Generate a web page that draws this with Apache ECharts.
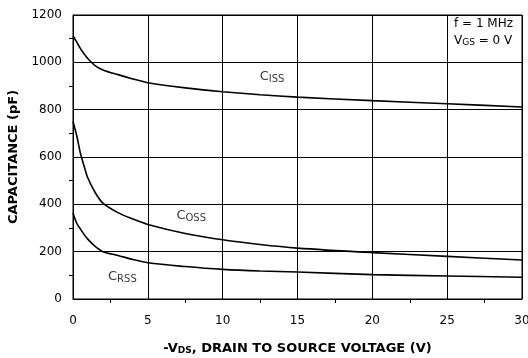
<!DOCTYPE html>
<html><head><meta charset="utf-8">
<script src="https://cdn.jsdelivr.net/npm/echarts@6/dist/echarts.min.js"></script>
<style>html,body{margin:0;padding:0;background:#fff}#c{width:528px;height:358px}</style>
</head><body><div id="c"></div>
<script>
var voltage = [0, 0.25, 0.5, 0.75, 1, 1.5, 2, 3, 4, 5, 7.5, 10, 12.5, 15, 20, 25, 30];
var ciss = [1112, 1085, 1058, 1035, 1015, 985, 968, 948, 930, 914, 892, 876, 863, 853, 838, 825, 811];
var coss = [750, 690, 615, 560, 510, 448, 405, 365, 338, 315, 277, 250, 230, 215, 196, 180, 165];
var crss = [362, 320, 295, 272, 252, 221, 200, 184, 167, 153, 137, 125, 118, 114, 103, 97, 92];
var xTicks = [0, 5, 10, 15, 20, 25, 30];
var yTicks = [0, 200, 400, 600, 800, 1000, 1200];
var curveLabels = ['ISS', 'OSS', 'RSS'];
var curveLabelAt = [[13.3, 938], [7.9, 351], [3.3, 93]];

function pairs(ys) { return voltage.map(function (v, i) { return [v, ys[i]]; }); }
var FONT = 'DejaVu Sans, sans-serif';
var rich = { m: { fontSize: 13, fontFamily: FONT, color: '#000' }, s: { fontSize: 10, fontFamily: FONT, color: '#000', verticalAlign: 'bottom', padding: [4, 0, 0, 0] } };
var richLeg = { m: { fontSize: 12, fontFamily: FONT, color: '#000' }, s: { fontSize: 9, fontFamily: FONT, color: '#000', verticalAlign: 'bottom', padding: [4, 0, 0, 0] } };
function series(ys) {
  return { type: 'line', data: pairs(ys), showSymbol: false, smooth: 0.3,
    lineStyle: { color: '#000', width: 1.6 }, itemStyle: { color: '#000' }, silent: true };
}
var labelSeries = {
  type: 'scatter', symbolSize: 1, itemStyle: { color: 'rgba(0,0,0,0)' }, silent: true,
  data: curveLabelAt.map(function (p, i) { return { value: p, name: curveLabels[i] }; }),
  label: { show: true, position: 'inside', formatter: function (p) { return '{m|C}{s|' + p.name + '}'; }, rich: rich }
};
var chart = echarts.init(document.getElementById('c'), null, { renderer: 'canvas' });
chart.setOption({
  animation: false,
  backgroundColor: '#fff',
  grid: { left: 73, right: 6, top: 15, bottom: 59, outerBoundsMode: 'none', containLabel: false, show: true, borderColor: '#000', borderWidth: 1, backgroundColor: 'transparent' },
  xAxis: {
    type: 'value', min: xTicks[0], max: xTicks[xTicks.length - 1], interval: 5,
    axisLine: { show: true, lineStyle: { color: '#000', width: 1 } },
    axisTick: { show: false },
    minorTick: { show: true, splitNumber: 2, length: 4, lineStyle: { color: '#000' } },
    splitLine: { show: true, lineStyle: { color: '#000', width: 1 } },
    axisLabel: { fontSize: 12, fontFamily: FONT, color: '#000', margin: 16, formatter: function (v) { return String(v); } },
    name: '{a|-V}{b|DS}{a|, DRAIN TO SOURCE VOLTAGE (V)}', nameLocation: 'middle', nameGap: 43,
    nameTextStyle: { rich: { a: { fontSize: 13, fontWeight: 'bold', fontFamily: FONT, color: '#000' }, b: { fontSize: 9, fontWeight: 'bold', fontFamily: FONT, color: '#000', verticalAlign: 'bottom', padding: [4, 0, 0, 0] } } }
  },
  yAxis: {
    type: 'value', min: yTicks[0], max: yTicks[yTicks.length - 1], interval: 200,
    axisLine: { show: true, lineStyle: { color: '#000', width: 1 } },
    axisTick: { show: false },
    minorTick: { show: true, splitNumber: 2, length: 4, lineStyle: { color: '#000' } },
    splitLine: { show: true, lineStyle: { color: '#000', width: 1 } },
    axisLabel: { fontSize: 12, fontFamily: FONT, color: '#000', margin: 11, formatter: function (v) { return String(v); } },
    name: 'CAPACITANCE (pF)', nameLocation: 'middle', nameGap: 47,
    nameTextStyle: { fontSize: 13, fontWeight: 'bold', fontFamily: FONT, color: '#000' }
  },
  series: [series(ciss), series(coss), series(crss), labelSeries],
  graphic: [
    { type: 'text', left: 454, top: 18, z: 100, style: { text: 'f = 1 MHz', font: '12px ' + FONT, fill: '#000' } },
    { type: 'text', left: 454, top: 35, z: 100, style: { text: '{m|V}{s|GS}{m| = 0 V}', rich: richLeg, fill: '#000' } }
  ]
});
</script></body></html>
